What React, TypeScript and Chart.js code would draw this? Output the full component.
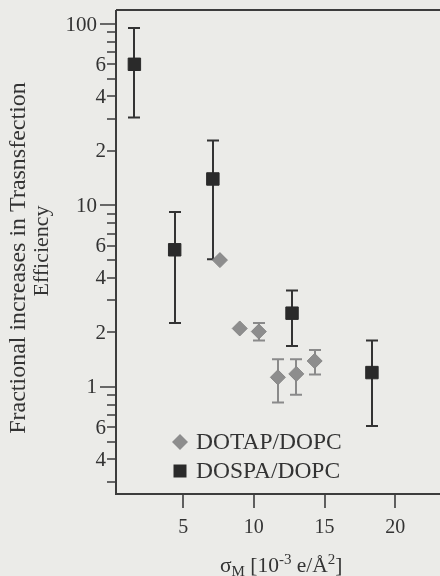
import { useEffect, useRef } from "react";
import { Chart, registerables } from "chart.js";

Chart.register(...registerables);

const FONT = '"Liberation Serif", "Times New Roman", serif';
const INK = "#333333";
const BG = "#ebebe8";

// ---- data ----
const dotapX = [7.6, 9.0, 10.35, 11.7, 13.0, 14.3];
const dotapY = [5.0, 2.1, 2.02, 1.13, 1.18, 1.39];
const dotapHigh: (number | null)[] = [null, null, 2.25, 1.42, 1.42, 1.6];
const dotapLow: (number | null)[] = [null, null, 1.8, 0.82, 0.905, 1.17];

const dospaX = [1.55, 4.4, 7.1, 12.7, 18.35];
const dospaY = [60, 5.7, 14, 2.55, 1.2];
const dospaHigh = [95, 9.2, 22.8, 3.4, 1.8];
const dospaLow = [30.5, 2.25, 5.05, 1.68, 0.61];

// ---- ticks ----
const xTickValues = [5, 10, 15, 20];
const yMajorTicks = [1, 10, 100];
const yMinorTicks = [
  0.3, 0.4, 0.5, 0.6, 0.7, 0.8, 0.9, 2, 3, 4, 5, 6, 7, 8, 9, 20, 30, 40, 50,
  60, 70, 80, 90,
];
const yLabelValues = [0.4, 0.6, 1, 2, 4, 6, 10, 20, 40, 60, 100];
const yLabelTexts = ["4", "6", "1", "2", "4", "6", "10", "2", "4", "6", "100"];

const seriesLabels = ["DOTAP/DOPC", "DOSPA/DOPC"];
const yTitleLines = ["Fractional increases in Trasnsfection", "Efficiency"];

const errorPlugin = {
  id: "errbars",
  beforeDatasetsDraw(chart: any) {
    const ctx = chart.ctx;
    const xs = chart.scales.x;
    const ys = chart.scales.y;
    const sets = [
      { x: dotapX, hi: dotapHigh, lo: dotapLow, color: "#8a8a8a" },
      { x: dospaX, hi: dospaHigh, lo: dospaLow, color: "#333333" },
    ];
    ctx.save();
    ctx.lineWidth = 2;
    for (const s of sets) {
      ctx.strokeStyle = s.color;
      s.x.forEach((xv, i) => {
        const hi = s.hi[i];
        const lo = s.lo[i];
        if (hi == null || lo == null) return;
        const px = Math.round(xs.getPixelForValue(xv));
        const ph = ys.getPixelForValue(hi);
        const pl = ys.getPixelForValue(lo);
        ctx.beginPath();
        ctx.moveTo(px, ph);
        ctx.lineTo(px, pl);
        ctx.moveTo(px - 6, ph);
        ctx.lineTo(px + 6, ph);
        ctx.moveTo(px - 6, pl);
        ctx.lineTo(px + 6, pl);
        ctx.stroke();
      });
    }
    ctx.restore();
  },
};

const framePlugin = {
  id: "frame",
  beforeDatasetsDraw(chart: any) {
    const ctx = chart.ctx;
    const { left, right, top, bottom } = chart.chartArea;
    const xs = chart.scales.x;
    const ys = chart.scales.y;
    ctx.save();
    ctx.strokeStyle = "#3c3c3c";
    ctx.lineWidth = 2;
    ctx.beginPath();
    ctx.moveTo(left, top);
    ctx.lineTo(right, top);
    ctx.moveTo(left, top);
    ctx.lineTo(left, bottom);
    ctx.lineTo(right, bottom);
    ctx.stroke();

    // y ticks
    ctx.lineWidth = 1.6;
    ctx.beginPath();
    for (const v of yMajorTicks) {
      const p = Math.round(ys.getPixelForValue(v));
      ctx.moveTo(left - 16, p);
      ctx.lineTo(left, p);
    }
    for (const v of yMinorTicks) {
      const p = Math.round(ys.getPixelForValue(v));
      ctx.moveTo(left - 9, p);
      ctx.lineTo(left, p);
    }
    // x ticks
    for (const v of xTickValues) {
      const p = Math.round(xs.getPixelForValue(v));
      ctx.moveTo(p, bottom);
      ctx.lineTo(p, bottom + 14);
    }
    ctx.stroke();

    ctx.fillStyle = INK;
    ctx.font = `21px ${FONT}`;
    ctx.textAlign = "right";
    ctx.textBaseline = "middle";
    yLabelValues.forEach((v, i) => {
      const p = ys.getPixelForValue(v);
      const major = yMajorTicks.includes(v);
      ctx.fillText(yLabelTexts[i], major ? left - 19 : left - 10, p + 1);
    });
    ctx.font = `20px ${FONT}`;
    ctx.textAlign = "center";
    ctx.textBaseline = "alphabetic";
    xTickValues.forEach((v) => {
      ctx.fillText(String(v), xs.getPixelForValue(v), 533);
    });

    // y title
    ctx.textAlign = "center";
    ctx.textBaseline = "middle";
    const titleSpecs = [
      { cx: 19, cy: 258, size: 24 },
      { cx: 42, cy: 251, size: 22 },
    ];
    titleSpecs.forEach((t, i) => {
      ctx.save();
      ctx.font = `${t.size}px ${FONT}`;
      ctx.translate(t.cx, t.cy);
      ctx.rotate(-Math.PI / 2);
      ctx.fillText(yTitleLines[i], 0, 0);
      ctx.restore();
    });

    // x title: sigma_M [10^-3 e/A^2]
    ctx.textAlign = "left";
    ctx.textBaseline = "alphabetic";
    let x = 220;
    const base = 572;
    const parts: [string, number, number][] = [
      ["σ", 21.5, 0],
      ["M", 15, 4],
      [" [10", 21.5, 0],
      ["-3", 15, -8],
      [" e/Å", 21.5, 0],
      ["2", 15, -8],
      ["]", 21.5, 0],
    ];
    for (const [t, size, dy] of parts) {
      ctx.font = `${size}px ${FONT}`;
      ctx.fillText(t, x, base + dy);
      x += ctx.measureText(t).width;
    }

    // legend
    const ds = chart.data.datasets;
    const legendY = [442, 471];
    ds.forEach((d: any, i: number) => {
      const cx = 180;
      const cyy = legendY[i];
      ctx.fillStyle = d.backgroundColor;
      ctx.beginPath();
      if (d.pointStyle === "rectRot") {
        ctx.moveTo(cx - 8, cyy);
        ctx.lineTo(cx, cyy - 8);
        ctx.lineTo(cx + 8, cyy);
        ctx.lineTo(cx, cyy + 8);
        ctx.closePath();
      } else {
        ctx.rect(cx - 6.5, cyy - 6.5, 13, 13);
      }
      ctx.fill();
      ctx.fillStyle = INK;
      ctx.font = `23.5px ${FONT}`;
      ctx.textBaseline = "middle";
      ctx.fillText(d.label, 196, cyy + 1);
    });
    ctx.restore();
  },
};

export default function App() {
  const ref = useRef<HTMLCanvasElement | null>(null);
  useEffect(() => {
    if (!ref.current) return;
    const chart = new Chart(ref.current, {
      type: "scatter",
      data: {
        datasets: [
          {
            label: seriesLabels[0],
            data: dotapX.map((x, i) => ({ x, y: dotapY[i] })),
            pointStyle: "rectRot",
            pointRadius: 7.5,
            backgroundColor: "#8d8d8d",
            borderColor: "#858585",
            borderWidth: 1,
          },
          {
            label: seriesLabels[1],
            data: dospaX.map((x, i) => ({ x, y: dospaY[i] })),
            pointStyle: "rect",
            pointRadius: 8.8,
            backgroundColor: "#2a2a2a",
            borderColor: "#2a2a2a",
            borderWidth: 1,
          },
        ],
      },
      options: {
        responsive: false,
        animation: false,
        devicePixelRatio: 1,
        layout: { padding: { top: 10, left: 0, right: 0, bottom: 0 } },
        plugins: { legend: { display: false }, tooltip: { enabled: false } },
        scales: {
          x: {
            type: "linear",
            min: 0.25,
            max: 25.3,
            grid: { display: false },
            border: { display: false },
            ticks: { display: false },
            afterBuildTicks: (s: any) => {
              s.ticks = xTickValues.map((v) => ({ value: v }));
            },
            afterFit: (s: any) => {
              s.height = 82;
            },
          },
          y: {
            type: "logarithmic",
            min: 0.257,
            max: 119.5,
            grid: { display: false },
            border: { display: false },
            ticks: { display: false },
            afterBuildTicks: (s: any) => {
              s.ticks = [...yMajorTicks, ...yMinorTicks]
                .sort((a, b) => a - b)
                .map((v) => ({ value: v }));
            },
            afterFit: (s: any) => {
              s.width = 116;
            },
          },
        },
      } as any,
      plugins: [errorPlugin, framePlugin],
    });
    return () => chart.destroy();
  }, []);
  return (
    <div
      style={{
        position: "fixed",
        left: 0,
        top: 0,
        width: 440,
        height: 576,
        overflow: "hidden",
        background: BG,
      }}
    >
      <canvas ref={ref} width={480} height={576} style={{ display: "block" }} />
    </div>
  );
}
